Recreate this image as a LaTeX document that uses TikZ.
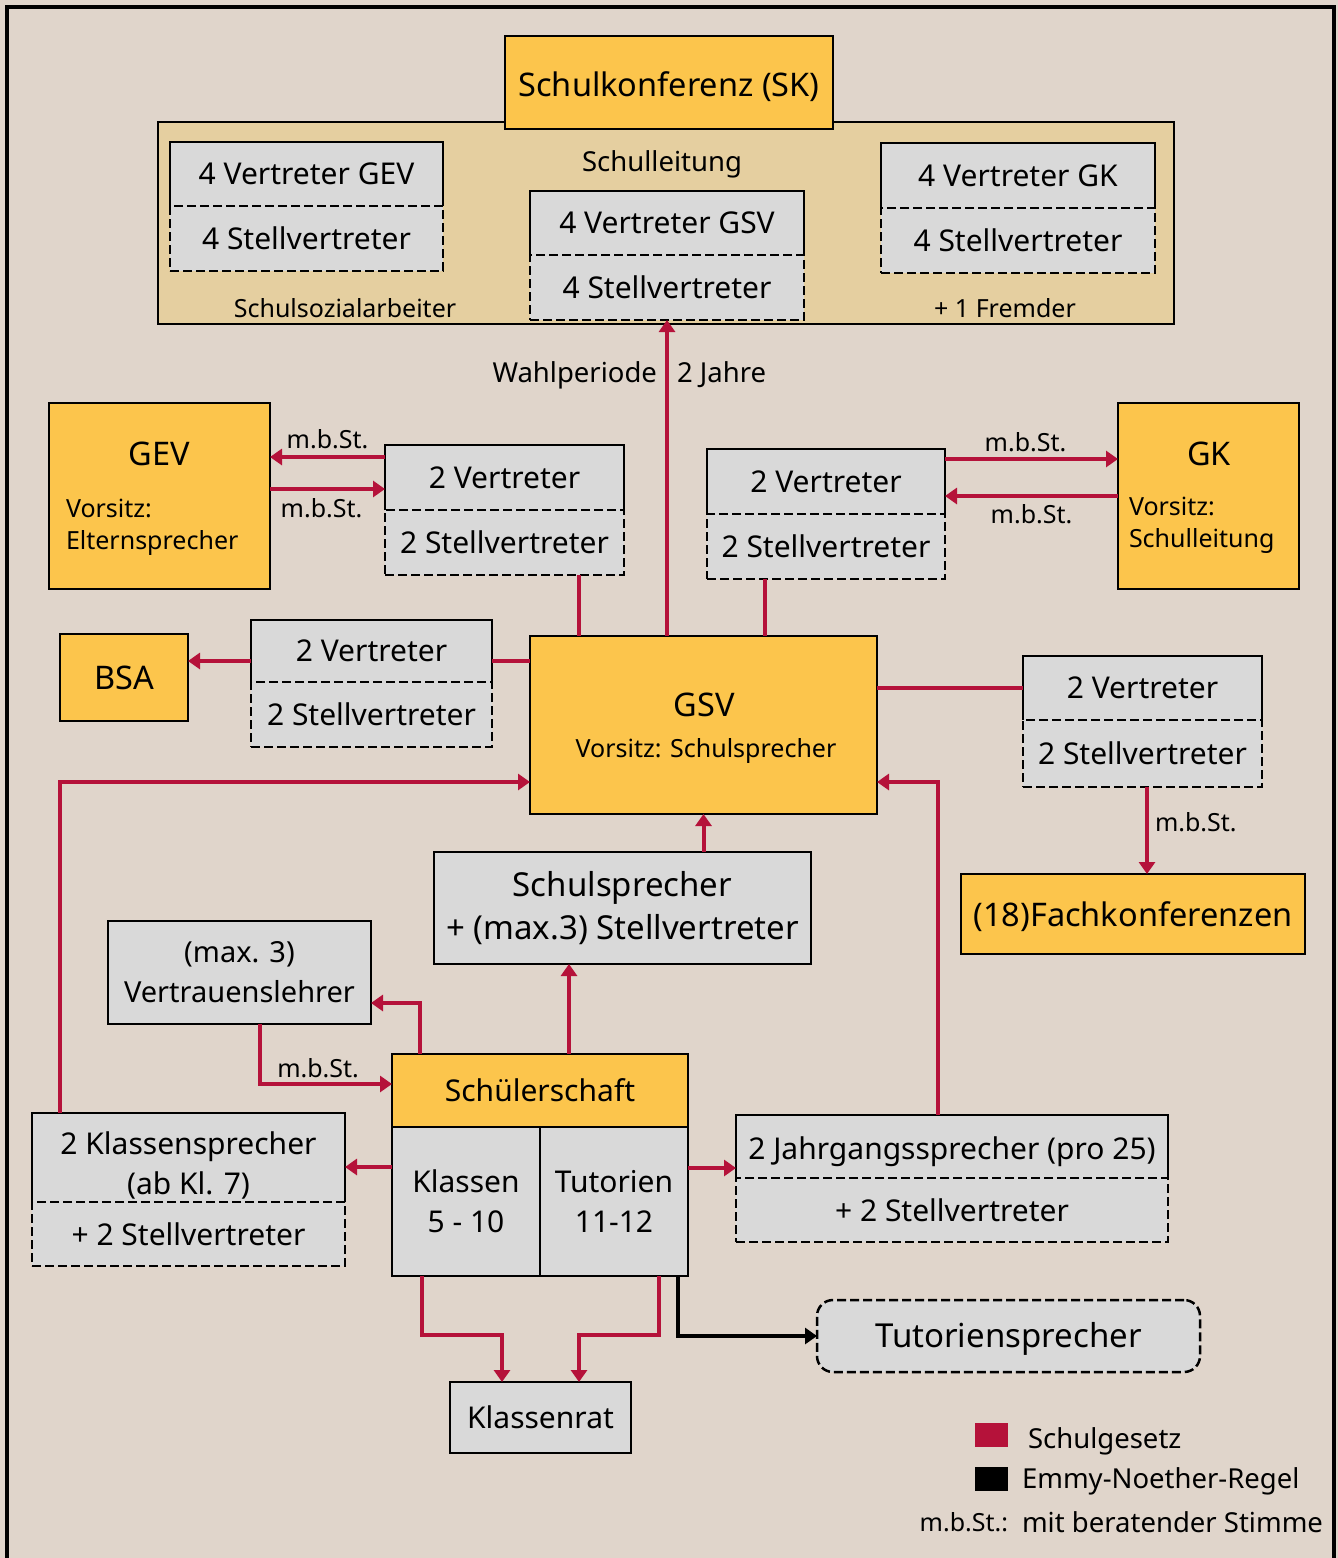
\documentclass[tikz,border=0pt]{standalone}
\usepackage{fontspec}
\setmainfont{Noto Sans}
\usetikzlibrary{arrows.meta}

\definecolor{hintergrund}{HTML}{E0D5CB}
\definecolor{gremium}{HTML}{FCC54C}
\definecolor{kasten}{HTML}{D9D9D9}
\definecolor{rahmenfarbe}{HTML}{E5CFA0}
\definecolor{gesetz}{HTML}{B5123A}

\tikzset{
  dim/.style 2 args={minimum width=#1pt,minimum height=#2pt},
  gelb/.style={fill=gremium,draw,line width=2.5pt},
  grau/.style={fill=kasten,draw,line width=2.5pt},
  grauoben/.style={fill=kasten},
  graustrich/.style={fill=kasten,draw,line width=2.5pt,dash pattern=on 9pt off 4pt},
  klein/.style={font=\fontsize{25}{32}\selectfont},
  mittel/.style={font=\fontsize{27.5}{32}\selectfont},
  titel/.style={font=\fontsize{32.5}{42}\selectfont},
  linie/.style={draw=gesetz,line width=4pt},
  pfeil/.style={linie,-{Triangle[length=12pt,width=16pt]}},
  pfeilschwarz/.style={draw=black,line width=3.5pt,-{Triangle[length=12pt,width=16pt]}}
}

\begin{document}
\begin{tikzpicture}[x=1pt,y=-1pt,every node/.style={font=\fontsize{30}{40}\selectfont,align=center,inner sep=0pt,outer sep=0pt}]
    \useasboundingbox (0,0) rectangle (1338,1558);
    \fill[hintergrund] (0,0) rectangle (1338,1558);
    \draw[line width=4.5pt] (7,1580) -- (7,7) -- (1334,7) -- (1334,1580);

    % Schulkonferenz
    \node[fill=rahmenfarbe,draw,line width=2.5pt,dim={1016}{202}] (skrahmen) at (666,223) {};
    \node[gelb,titel,dim={328}{93}] (sk) at (669,82.5) {\raisebox{-4pt}[\height][\depth]{Schulkonferenz (SK)}};
    \node[mittel] (schulleitung) at (662,164) {Schulleitung};
    \node[klein] (ssa) at (345,308) {Schulsozialarbeiter};
    \node[klein] (fremder) at (1005,308) {+ 1 Fremder};

    \node[grauoben,dim={273}{64}] (gevv) at (306.5,174) {4 Vertreter GEV};
    \node[graustrich,dim={273}{65}] (gevs) at (306.5,238.5) {4 Stellvertreter};
    \node[grauoben,dim={274}{64}] (gsvv) at (667,223) {4 Vertreter GSV};
    \node[graustrich,dim={274}{65}] (gsvs) at (667,287.5) {4 Stellvertreter};
    \node[grauoben,dim={274}{65}] (gkv) at (1018,175.5) {4 Vertreter GK};
    \node[graustrich,dim={274}{65}] (gks) at (1018,240.5) {4 Stellvertreter};

    % Gremien
    \node[gelb,dim={221}{186}] (gev) at (159.5,496) {};
    \node[titel] (gevtitel) at (159,454) {GEV};
    \node[klein,anchor=west,align=left] (gevvorsitz) at (66,527) {Vorsitz:\\Elternsprecher};
    \node[grauoben,dim={239}{65}] (lv) at (504.5,477.5) {2 Vertreter};
    \node[graustrich,dim={239}{65}] (ls) at (504.5,542.5) {2 Stellvertreter};

    \node[grauoben,dim={238}{65}] (rv) at (826,481.5) {2 Vertreter};
    \node[graustrich,dim={238}{65}] (rs) at (826,546.5) {2 Stellvertreter};
    \node[gelb,dim={181}{186}] (gk) at (1208.5,496) {};
    \node[titel] (gktitel) at (1209,454) {GK};
    \node[klein,anchor=west,align=left] (gkvorsitz) at (1129,525) {Vorsitz:\\Schulleitung};

    \node[gelb,titel,dim={128}{87}] (bsa) at (124,677.5) {BSA};
    \node[grauoben,dim={241}{62}] (mv) at (371.5,651) {2 Vertreter};
    \node[graustrich,dim={241}{65}] (ms) at (371.5,714.5) {2 Stellvertreter};

    \node[gelb,dim={347}{178}] (gsv) at (703.5,725) {};
    \node[titel] (gsvtitel) at (704,705) {GSV};
    \node[klein] (gsvvorsitz) at (706,751) {Vorsitz: Schulsprecher};

    \node[grauoben,dim={239}{64}] (fv) at (1142.5,688) {2 Vertreter};
    \node[graustrich,dim={239}{67}] (fs) at (1142.5,753.5) {2 Stellvertreter};
    \node[gelb,titel,dim={344}{80}] (fk) at (1133,914) {\raisebox{-3pt}[\height][\depth]{(18)Fachkonferenzen}};

    \node[grau,font=\fontsize{33}{43}\selectfont,dim={377}{112}] (ssp) at (622.5,908) {Schulsprecher\\+ (max.3) Stellvertreter};
    \node[grau,font=\fontsize{29}{40}\selectfont,dim={263}{103}] (vl) at (239.5,972.5) {(max. 3)\\Vertrauenslehrer};

    % Schuelerschaft
    \node[gelb,dim={296}{73}] (sch) at (540,1090.5) {Schülerschaft};
    \node[grau,dim={148}{149}] (kl) at (466,1201.5) {Klassen\\5 - 10};
    \node[grau,dim={148}{149}] (tu) at (614,1201.5) {Tutorien\\11-12};
    \node[grauoben,dim={313}{89}] (ksv) at (188.5,1157.5) {};
    \node (ksvtext) at (188.5,1165) {2 Klassensprecher\\(ab Kl. 7)};
    \node[graustrich,dim={313}{64}] (kss) at (188.5,1234) {+ 2 Stellvertreter};
    \node[grauoben,dim={432}{63}] (jv) at (952,1146.5) {\raisebox{-5pt}[\height][\depth]{2 Jahrgangssprecher (pro 25)}};
    \node[graustrich,dim={432}{64}] (js) at (952,1210) {+ 2 Stellvertreter};
    \node[grau,dim={181}{71}] (kr) at (540.5,1417.5) {Klassenrat};
    \node[graustrich,rounded corners=16pt,font=\fontsize{33}{40}\selectfont,dim={383}{72}] (ts) at (1008.5,1336) {\raisebox{-3pt}[\height][\depth]{Tutoriensprecher}};

    \foreach \n in {gevv,gsvv,gkv,lv,rv,mv,fv,ksv,jv}
        \draw[line width=2.5pt] (\n.south west) |- (\n.north east) -- (\n.south east);

    % Verbindungen
    \draw[pfeil] (gsvs.south |- gsv.north) -- (gsvs.south);
    \node[mittel,anchor=east] (wahl) at (657,375) {Wahlperiode};
    \node[mittel,anchor=west] (jahre) at (677,375) {2 Jahre};

    \draw[pfeil] ([yshift=20.5pt]lv.west) -- ([yshift=20.5pt]lv.west -| gev.east) node[klein,midway,above=8pt] (mbst1) {m.b.St.};
    \draw[pfeil] ([yshift=7pt]gev.east) -- ([yshift=7pt]gev.east -| lv.west) node[klein,midway,below=9pt,xshift=-6pt] (mbst2) {m.b.St.};
    \draw[linie] ([xshift=74.5pt]ls.south) -- ([xshift=74.5pt]ls.south |- gsv.north);

    \draw[pfeil] ([yshift=22.5pt]rv.east) -- ([yshift=22.5pt]rv.east -| gk.west) node[klein,midway,above=7pt,xshift=-6pt] (mbst3) {m.b.St.};
    \draw[pfeil] (gk.west) -- (gk.west -| rv.east) node[klein,midway,below=8pt] (mbst4) {m.b.St.};
    \draw[linie] ([xshift=-61pt]rs.south) -- ([xshift=-61pt]rs.south |- gsv.north);

    \draw[pfeil] ([yshift=-10pt]mv.west) -- ([yshift=-10pt]mv.west -| bsa.east);
    \draw[linie] ([yshift=-10pt]mv.east) -- ([yshift=-10pt]mv.east -| gsv.west);
    \draw[linie] (fv.west -| gsv.east) -- (fv.west);
    \draw[pfeil] ([xshift=4.5pt]fs.south) -- ([xshift=4.5pt]fs.south |- fk.north) node[klein,pos=0.4,right=8pt] (mbst5) {m.b.St.};

    \draw[pfeil] (ssp.north -| gsv.south) -- (gsv.south);
    \draw[pfeil] ([xshift=-120pt]sch.north) |- ([yshift=-30.5pt]vl.east);
    \draw[pfeil] ([xshift=29pt]sch.north) -- ([xshift=29pt]sch.north |- ssp.south);
    \draw[pfeil] ([xshift=20.5pt]vl.south) |- ([yshift=6.5pt]sch.west) node[klein,pos=0.72,above=6pt] (mbst6) {m.b.St.};

    \draw[pfeil] ([yshift=34.5pt]kl.west) -- ([yshift=34.5pt]kl.west -| ksv.east);
    \draw[pfeil] ([xshift=-128.5pt]ksv.north) |- ([yshift=-57pt]gsv.west);
    \draw[pfeil] ([yshift=33.5pt]tu.east) -- ([yshift=33.5pt]tu.east -| jv.west);
    \draw[pfeil] ([xshift=-14pt]jv.north) |- ([yshift=-57pt]gsv.east);

    \draw[pfeil] ([xshift=-44pt]kl.south) -- ++(0,59) -| ([xshift=-38.5pt]kr.north);
    \draw[pfeil] ([xshift=45pt]tu.south) -- ++(0,59) -| ([xshift=38.5pt]kr.north);
    \draw[pfeilschwarz] ([xshift=64pt]tu.south) |- (ts.west);

    % Legende
    \node[fill=gesetz,dim={33}{24}] (legrot) at (991.5,1435) {};
    \node[mittel,anchor=west] (legrottext) at (1028,1441) {Schulgesetz};
    \node[fill=black,dim={33}{24}] (legschwarz) at (991.5,1478.5) {};
    \node[mittel,anchor=west] (legschwarztext) at (1022,1481) {Emmy-Noether-Regel};
    \node[klein,anchor=east] (legmbst) at (1008,1522) {m.b.St.:};
    \node[mittel,anchor=west] (legmbsttext) at (1022,1522) {mit beratender Stimme};
\end{tikzpicture}
\end{document}
